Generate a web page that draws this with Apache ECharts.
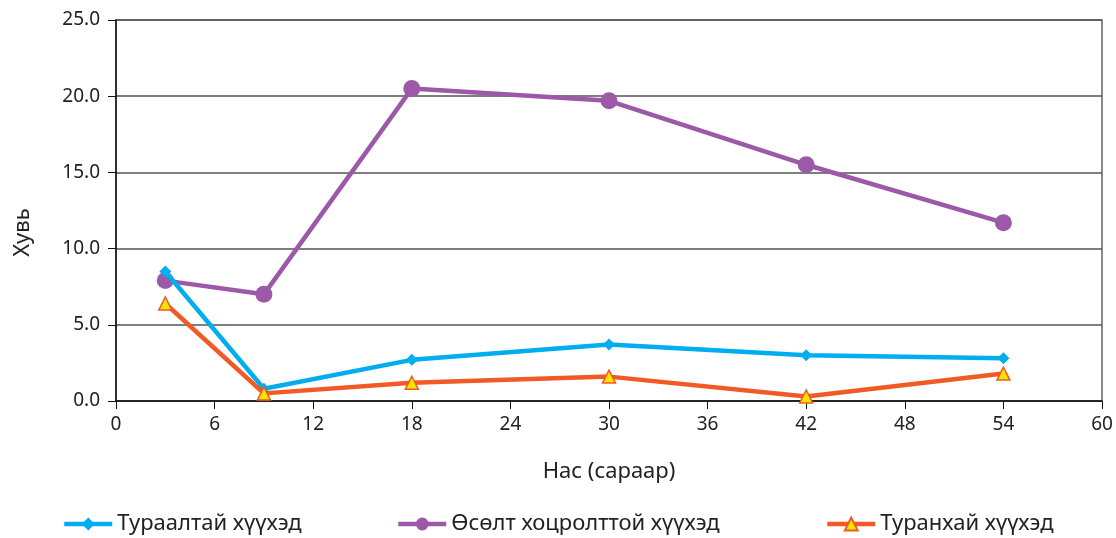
<!DOCTYPE html>
<html><head><meta charset="utf-8">
<script src="https://cdn.jsdelivr.net/npm/echarts@6/dist/echarts.min.js"></script>
<style>html,body{margin:0;padding:0;background:#fff}#c{width:1116px;height:538px}</style>
</head><body><div id="c"></div>
<script>
const ages = [3, 9, 18, 30, 42, 54];
const turaaltai = [8.5, 0.8, 2.7, 3.7, 3.0, 2.8];
const osolt = [7.9, 7.0, 20.5, 19.7, 15.5, 11.7];
const turanhai = [6.4, 0.5, 1.2, 1.6, 0.3, 1.8];
const names = ['Тураалтай хүүхэд', 'Өсөлт хоцролттой хүүхэд', 'Туранхай хүүхэд'];
const xName = 'Нас (сараар)';
const yName = 'Хувь';

const font = 'Noto Sans';
const pair = (xs, ys) => xs.map((x, i) => [x, ys[i]]);
const chart = echarts.init(document.getElementById('c'));
const legendBase = {bottom: -2, itemWidth: 48, itemHeight: 16, itemGap: 3,
  lineStyle: {width: 4.5},
  textStyle: {fontFamily: font, fontSize: 22, color: '#222'}};
chart.setOption({
  animation: false,
  grid: {left: 116, right: 14, top: 20, bottom: 137, show: true, borderColor: '#666', borderWidth: 1.5},
  legend: [
    Object.assign({}, legendBase, {left: 57, data: [names[0]]}),
    Object.assign({}, legendBase, {left: 391, data: [names[1]]}),
    Object.assign({}, legendBase, {left: 820, data: [names[2]]})
  ],
  xAxis: {
    type: 'value', min: 0, max: 60, interval: 6,
    name: xName, nameLocation: 'middle', nameGap: 60,
    nameTextStyle: {fontFamily: font, fontSize: 22, color: '#222'},
    axisLine: {lineStyle: {color: '#111', width: 1.5}},
    axisTick: {show: true, length: 8, lineStyle: {color: '#111'}},
    axisLabel: {fontFamily: font, fontSize: 19, color: '#222', margin: 14},
    splitLine: {show: false}
  },
  yAxis: {
    type: 'value', min: 0, max: 25, interval: 5,
    name: yName, nameLocation: 'middle', nameGap: 82, nameRotate: 90,
    nameTextStyle: {fontFamily: font, fontSize: 22, color: '#222', padding: [0, 44, 0, 0]},
    axisLine: {show: true, lineStyle: {color: '#111', width: 1.5}},
    axisTick: {show: true, length: 8, lineStyle: {color: '#111'}},
    axisLabel: {fontFamily: font, fontSize: 19, color: '#222', margin: 16, formatter: v => v.toFixed(1)},
    splitLine: {show: true, lineStyle: {color: '#555', width: 1.5}}
  },
  series: [
    {name: names[0], type: 'line', data: pair(ages, turaaltai), symbol: 'diamond', symbolSize: 12,
      lineStyle: {color: '#00AEEF', width: 4.5}, itemStyle: {color: '#00AEEF'}, z: 3},
    {name: names[1], type: 'line', data: pair(ages, osolt), symbol: 'circle', symbolSize: 17,
      lineStyle: {color: '#9B59A8', width: 4.5}, itemStyle: {color: '#9B59A8'}, z: 2},
    {name: names[2], type: 'line', data: pair(ages, turanhai), symbol: 'triangle', symbolSize: 13,
      lineStyle: {color: '#F15A24', width: 4.5}, itemStyle: {color: '#F2E500', borderColor: '#F15A24', borderWidth: 1.5}, z: 4}
  ]
});
</script></body></html>
